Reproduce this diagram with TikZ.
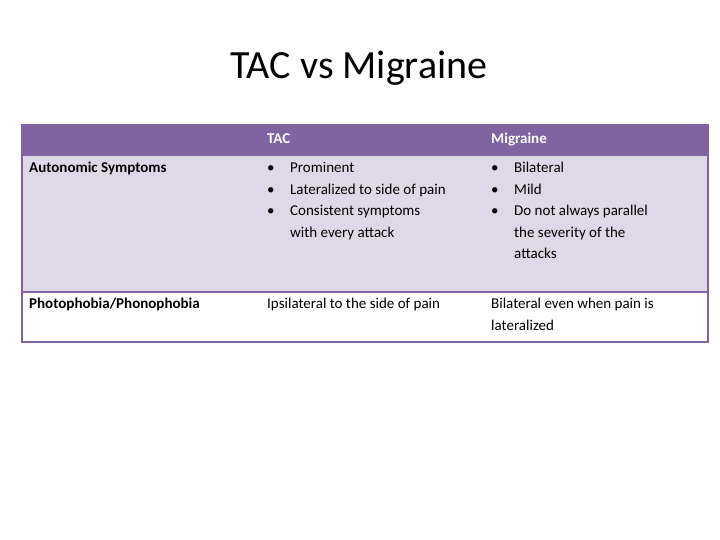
\documentclass[tikz,border=0pt]{standalone}
\usepackage{fontspec}
\setmainfont{Carlito}
\definecolor{hdr}{HTML}{8064A2}
\definecolor{row}{HTML}{DFD8E8}
\begin{document}
\begin{tikzpicture}[x=1pt,y=-1pt,
  cell/.style={anchor=north west,inner sep=0pt,align=left,font=\fontsize{15}{21.5}\selectfont},
  bcell/.style={cell,font=\fontsize{15}{21.5}\selectfont\bfseries}]
\useasboundingbox (0,0) rectangle (720,540);
\node (title) at (359,68) {\fontsize{40}{48}\selectfont TAC vs Migraine};
\fill[hdr] (22,125) rectangle (708,155);
\fill[row] (22,155) rectangle (708,292);
\draw[hdr,line width=1.2] (22,155) -- (708,155);
\draw[hdr,line width=1.5] (22,292) -- (708,292);
\draw[hdr,line width=1.5] (22,125) rectangle (708,342);
\node[bcell,text=white] (h1) at (267,133) {TAC};
\node[bcell,text=white] (h2) at (491,133) {Migraine};
\node[bcell] (r1) at (29,162) {Autonomic Symptoms};
\node[cell] (t1) at (267,162) {\makebox[23pt][l]{•}Prominent\\\makebox[23pt][l]{•}Lateralized to side of pain\\\makebox[23pt][l]{•}Consistent symptoms\\\hspace*{23pt}with every attack};
\node[cell] (m1) at (491,162) {\makebox[23pt][l]{•}Bilateral\\\makebox[23pt][l]{•}Mild\\\makebox[23pt][l]{•}Do not always parallel\\\hspace*{23pt}the severity of the\\\hspace*{23pt}attacks};
\node[bcell] (r2) at (29,298) {Photophobia/Phonophobia};
\node[cell] (t2) at (267,298) {Ipsilateral to the side of pain};
\node[cell] (m2) at (491,298) {Bilateral even when pain is\\lateralized};
\end{tikzpicture}
\end{document}
